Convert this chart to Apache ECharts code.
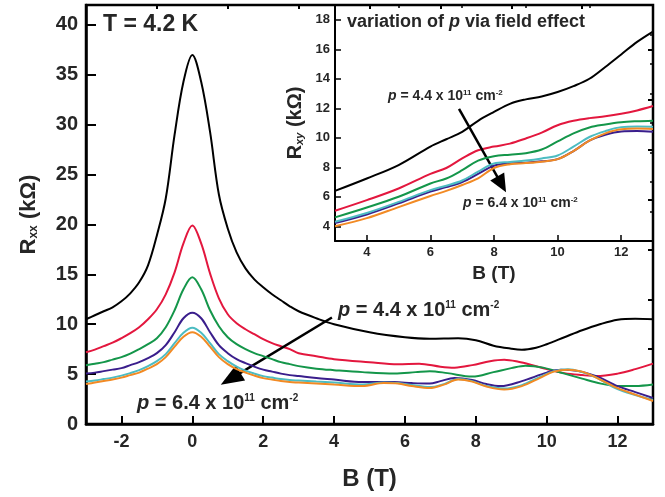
<!DOCTYPE html>
<html><head><meta charset="utf-8">
<script src="https://cdn.jsdelivr.net/npm/echarts@6/dist/echarts.min.js"></script>
<style>html,body{margin:0;padding:0;background:#fff}#c{width:665px;height:497px}</style>
</head><body><div id="c"></div>
<script>
// ---- Main panel: R_xx vs B (T) ----
// peak region, B from -3 to 3 T
const peakB = [-3, -2.75, -2.5, -2.25, -2, -1.75, -1.5, -1.25, -1, -0.75, -0.5, -0.25, 0, 0.25, 0.5, 0.75, 1, 1.25, 1.5, 1.75, 2, 2.25, 2.5, 2.75, 3];
const peakBlack  = [10.5, 10.9, 11.3, 11.7, 12.3, 13.1, 14.2, 15.9, 18.9, 22.6, 29.0, 34.3, 37.0, 34.3, 29.3, 23.0, 19.6, 17.2, 15.6, 14.5, 13.7, 13.0, 12.4, 11.8, 11.3];
const peakRed    = [7.2, 7.45, 7.8, 8.15, 8.6, 9.1, 9.7, 10.5, 11.5, 13.0, 15.2, 18.1, 19.9, 18.1, 15.1, 12.6, 11.0, 10.1, 9.5, 9.0, 8.5, 8.1, 7.8, 7.5, 7.1];
const peakGreen  = [5.9, 6.05, 6.2, 6.45, 6.7, 7.05, 7.5, 8.0, 8.6, 9.7, 11.4, 13.5, 14.7, 13.5, 11.4, 9.8, 8.7, 8.0, 7.5, 7.1, 6.8, 6.5, 6.2, 6.0, 5.8];
const peakPurple = [5.05, 5.15, 5.3, 5.45, 5.6, 5.9, 6.2, 6.6, 7.1, 7.9, 9.2, 10.6, 11.15, 10.6, 9.2, 7.9, 7.1, 6.5, 6.1, 5.75, 5.45, 5.25, 5.05, 4.9, 4.8];
const peakCyan   = [4.25, 4.35, 4.5, 4.65, 4.85, 5.1, 5.4, 5.8, 6.3, 7.0, 8.1, 9.15, 9.65, 9.15, 8.1, 7.0, 6.3, 5.75, 5.35, 5.05, 4.8, 4.65, 4.5, 4.4, 4.35];
const peakOrange = [4.0, 4.15, 4.3, 4.45, 4.65, 4.9, 5.15, 5.55, 6.0, 6.7, 7.75, 8.75, 9.2, 8.75, 7.75, 6.7, 6.0, 5.5, 5.15, 4.85, 4.6, 4.45, 4.3, 4.2, 4.15];
// high-field region, [B, R] pairs beyond 3 T
const tailBlack  = [[3.5,10.6],[4.0,10.0],[5.0,9.2],[6.0,8.7],[6.7,8.55],[7.5,8.6],[8.0,8.4],[8.5,7.85],[9.0,7.55],[9.3,7.45],[9.7,7.65],[10.0,8.0],[10.5,8.7],[11.0,9.4],[11.5,10.0],[12.0,10.45],[12.5,10.55],[13.0,10.5]];
const tailRed    = [[3.5,6.8],[4.0,6.5],[5.0,6.2],[5.8,6.0],[6.4,6.05],[7.0,5.75],[7.4,5.65],[7.9,5.9],[8.4,6.3],[8.8,6.45],[9.2,6.25],[9.6,5.9],[10.0,5.5],[10.5,5.1],[11.0,4.9],[11.4,4.8],[12.0,5.05],[12.5,5.5],[13.0,6.05]];
const tailGreen  = [[3.5,5.55],[4.0,5.4],[4.8,5.2],[5.7,5.07],[6.3,5.2],[6.7,5.3],[7.2,5.1],[7.9,4.75],[8.5,5.2],[9.0,5.6],[9.4,5.85],[9.9,5.65],[10.5,5.05],[11.0,4.55],[11.4,4.15],[12.0,3.8],[12.5,3.8],[13.0,3.95]];
const tailPurple = [[3.5,4.6],[4.0,4.45],[4.8,4.2],[5.7,4.2],[6.2,4.1],[6.7,4.05],[7.0,4.3],[7.4,4.6],[7.9,4.4],[8.3,4.0],[8.7,3.8],[9.3,4.3],[10.0,5.15],[10.4,5.45],[10.9,5.3],[11.4,4.8],[12.0,3.8],[12.5,3.2],[13.0,2.6]];
const tailCyan   = [[3.5,4.25],[4.0,4.15],[4.8,3.95],[5.4,4.15],[5.8,4.1],[6.2,3.9],[6.7,3.7],[7.1,4.0],[7.5,4.5],[7.9,4.3],[8.3,3.8],[8.8,3.55],[9.3,3.9],[9.8,4.7],[10.2,5.3],[10.6,5.5],[11.0,5.2],[11.4,4.65],[12.0,3.5],[12.5,2.9],[13.0,2.4]];
const tailOrange = [[3.5,4.05],[4.0,3.95],[4.8,3.8],[5.4,4.1],[5.8,4.05],[6.2,3.8],[6.7,3.6],[7.1,3.95],[7.5,4.45],[7.9,4.25],[8.3,3.75],[8.8,3.45],[9.3,3.8],[9.8,4.6],[10.2,5.25],[10.6,5.45],[11.0,5.25],[11.4,4.65],[12.0,3.6],[12.5,2.95],[13.0,2.3]];

// ---- Inset: R_xy vs B (T) ----
const insetB      = [3, 4, 5, 6, 6.5, 7, 7.5, 8, 8.5, 9, 9.5, 10, 10.5, 11, 11.5, 12, 12.5, 13];
const insetBlack  = [6.4, 7.24, 8.15, 9.4, 9.9, 10.4, 11.15, 11.75, 12.3, 12.6, 12.8, 13.1, 13.5, 14.0, 14.8, 15.65, 16.5, 17.2];
const insetRed    = [5.05, 5.77, 6.56, 7.55, 7.95, 8.6, 9.15, 9.4, 9.6, 9.95, 10.35, 10.85, 11.15, 11.33, 11.45, 11.62, 11.85, 12.15];
const insetGreen  = [4.6, 5.27, 6.0, 6.9, 7.24, 7.8, 8.45, 8.75, 8.85, 8.95, 9.2, 9.75, 10.3, 10.7, 10.9, 11.05, 11.12, 11.16];
const insetPurple = [4.22, 4.8, 5.55, 6.35, 6.65, 7.0, 7.55, 8.1, 8.25, 8.3, 8.4, 8.55, 9.1, 9.8, 10.2, 10.42, 10.45, 10.4];
const insetCyan   = [4.3, 4.9, 5.65, 6.45, 6.75, 7.1, 7.7, 8.25, 8.35, 8.45, 8.6, 8.8, 9.4, 10.05, 10.45, 10.72, 10.76, 10.75];
const insetOrange = [4.0, 4.55, 5.3, 6.05, 6.4, 6.8, 7.25, 7.95, 8.2, 8.28, 8.38, 8.55, 9.1, 9.8, 10.3, 10.58, 10.62, 10.6];

// ---- Tick values ----
const mainXTicks = [-2, 0, 2, 4, 6, 8, 10, 12];
const mainXMinor = [-1, 1, 3, 5, 7, 9, 11];
const mainYTicks = [0, 5, 10, 15, 20, 25, 30, 35, 40];
const mainYMinor = [2.5, 7.5, 12.5, 17.5, 22.5, 27.5, 32.5, 37.5];
const insetXTicks = [4, 6, 8, 10, 12];
const insetXMinor = [5, 7, 9, 11];
const insetYTicks = [4, 6, 8, 10, 12, 14, 16, 18];
const insetYMinor = [5, 7, 9, 11, 13, 15, 17];

// ---- Annotation arrows (data coordinates: tail, head) ----
const mainArrow  = [[3.94, 10.68], [1.08, 4.53]];
const insetArrow = [[6.90, 11.96], [8.24, 6.84]];

const colors = ['#000000', '#e3173e', '#14964a', '#3a1e8c', '#4cbcc2', '#f28a24'];
const FONT = 'Liberation Sans, Arial, Helvetica, sans-serif';
const TXT = '#262626';

const chart = echarts.init(document.getElementById('c'), null, {renderer: 'canvas'});

function majorAxis(extra) {
  return Object.assign({
    type: 'value', splitLine: {show: false},
    axisLine: {show: true, onZero: false, lineStyle: {color: '#000', width: 2.5}},
  }, extra);
}
function ghostAxis(extra) {
  return Object.assign({
    type: 'value', splitLine: {show: false},
    axisLine: {show: false, onZero: false}, axisLabel: {show: false},
  }, extra);
}

const peakSets = [peakBlack, peakRed, peakGreen, peakPurple, peakCyan, peakOrange];
const tailSets = [tailBlack, tailRed, tailGreen, tailPurple, tailCyan, tailOrange];
const insetSets = [insetBlack, insetRed, insetGreen, insetPurple, insetCyan, insetOrange];

const series = [];
peakSets.forEach((vals, i) => {
  const d = peakB.map((b, k) => [b, vals[k]]).concat(tailSets[i]);
  const s = {
    type: 'line', xAxisIndex: 0, yAxisIndex: 0, data: d, smooth: 0.35,
    showSymbol: false, symbol: 'none', silent: true,
    lineStyle: {color: colors[i], width: 2}, z: 3 + i
  };
  if (i === 0) {
    s.markLine = {
      silent: true, symbol: ['none', 'triangle'], symbolSize: [18, 23],
      label: {show: false}, lineStyle: {color: '#000', width: 2.5, type: 'solid'},
      itemStyle: {color: '#000'},
      data: [[{coord: mainArrow[0]}, {coord: mainArrow[1]}]]
    };
  }
  series.push(s);
});
insetSets.forEach((vals, i) => {
  const s = {
    type: 'line', xAxisIndex: 2, yAxisIndex: 2,
    data: insetB.map((b, k) => [b, vals[k]]), smooth: 0.35,
    showSymbol: false, symbol: 'none', silent: true,
    lineStyle: {color: colors[i], width: 2}, z: 3 + i
  };
  if (i === 0) {
    s.markLine = {
      silent: true, symbol: ['none', 'triangle'], symbolSize: [16, 18],
      label: {show: false}, lineStyle: {color: '#000', width: 2.5, type: 'solid'},
      itemStyle: {color: '#000'},
      data: [[{coord: insetArrow[0]}, {coord: insetArrow[1]}]]
    };
  }
  series.push(s);
});

function pText(left, top, size, supSize, val) {
  return {
    type: 'text', left: left, top: top, z: 100,
    style: {
      text: '{i|p} = ' + val + ' x 10{s|11} cm{s|-2}',
      font: 'bold ' + size + 'px ' + FONT, fill: TXT,
      rich: {
        i: {fontStyle: 'italic', fontWeight: 'bold', fontSize: size, fontFamily: FONT, fill: TXT, color: TXT},
        s: {fontSize: supSize, fontWeight: 'bold', fontFamily: FONT, verticalAlign: 'top', fill: TXT, color: TXT, lineHeight: size}
      }
    }
  };
}

chart.setOption({
  animation: false,
  backgroundColor: '#fff',
  grid: [
    {left: 86, right: 12, top: 5, bottom: 73, show: true, borderColor: '#000', borderWidth: 2.5, backgroundColor: 'transparent'},
    {left: 335, right: 12, top: 5, bottom: 256, show: false}
  ],
  xAxis: [
    majorAxis({gridIndex: 0, min: -3, max: 13,
      axisTick: {show: true, inside: true, length: 8, customValues: mainXTicks, lineStyle: {color: '#000', width: 2}},
      axisLabel: {customValues: mainXTicks, fontSize: 18, fontWeight: 'bold', fontFamily: FONT, color: TXT, margin: 9},
      name: 'B (T)', nameLocation: 'middle', nameGap: 43,
      nameTextStyle: {fontSize: 24, fontWeight: 'bold', fontFamily: FONT, color: TXT}}),
    ghostAxis({gridIndex: 0, min: -3, max: 13,
      axisTick: {show: true, inside: true, length: 4, customValues: mainXMinor, lineStyle: {color: '#000', width: 2}}}),
    majorAxis({gridIndex: 1, min: 3, max: 13,
      axisLine: {show: true, onZero: false, lineStyle: {color: '#000', width: 2}},
      axisTick: {show: true, inside: true, length: 6, customValues: insetXTicks, lineStyle: {color: '#000', width: 1.5}},
      axisLabel: {customValues: insetXTicks, fontSize: 13, fontWeight: 'bold', fontFamily: FONT, color: TXT, margin: 5},
      name: 'B (T)', nameLocation: 'middle', nameGap: 23,
      nameTextStyle: {fontSize: 19, fontWeight: 'bold', fontFamily: FONT, color: TXT}}),
    ghostAxis({gridIndex: 1, min: 3, max: 13,
      axisTick: {show: true, inside: true, length: 3, customValues: insetXMinor, lineStyle: {color: '#000', width: 1.5}}})
  ],
  yAxis: [
    majorAxis({gridIndex: 0, min: 0, max: 42,
      axisTick: {show: true, inside: true, length: 10, customValues: mainYTicks, lineStyle: {color: '#000', width: 2}},
      axisLabel: {customValues: mainYTicks, fontSize: 20, fontWeight: 'bold', fontFamily: FONT, color: TXT, margin: 8},
      name: '{m|R}{sub|xx}{m| (kΩ)}', nameLocation: 'middle', nameGap: 46, nameRotate: 90,
      nameTextStyle: {fontSize: 22, fontWeight: 'bold', fontFamily: FONT, color: TXT,
        rich: {m: {fontSize: 22, fontWeight: 'bold', fontFamily: FONT, color: TXT},
               sub: {fontSize: 12, fontWeight: 'bold', fontFamily: FONT, color: TXT, verticalAlign: 'bottom'}}}}),
    ghostAxis({gridIndex: 0, min: 0, max: 42,
      axisTick: {show: true, inside: true, length: 5, customValues: mainYMinor, lineStyle: {color: '#000', width: 2}}}),
    majorAxis({gridIndex: 1, min: 3, max: 19,
      axisLine: {show: true, onZero: false, lineStyle: {color: '#000', width: 2}},
      axisTick: {show: true, inside: true, length: 6, customValues: insetYTicks, lineStyle: {color: '#000', width: 1.5}},
      axisLabel: {customValues: insetYTicks, fontSize: 13, fontWeight: 'bold', fontFamily: FONT, color: TXT, margin: 5},
      name: '{m|R}{sub|xy}{m| (kΩ)}', nameLocation: 'middle', nameGap: 30, nameRotate: 90,
      nameTextStyle: {fontSize: 20, fontWeight: 'bold', fontFamily: FONT, color: TXT,
        rich: {m: {fontSize: 20, fontWeight: 'bold', fontFamily: FONT, color: TXT},
               sub: {fontSize: 11, fontWeight: 'bold', fontStyle: 'italic', fontFamily: FONT, color: TXT, verticalAlign: 'bottom'}}}}),
    ghostAxis({gridIndex: 1, min: 3, max: 19,
      axisTick: {show: true, inside: true, length: 3, customValues: insetYMinor, lineStyle: {color: '#000', width: 1.5}}})
  ],
  series: series,
  graphic: [
    {type: 'text', left: 103, top: 13, z: 100,
     style: {text: 'T = 4.2 K', font: 'bold 23px ' + FONT, fill: TXT}},
    {type: 'text', left: 347, top: 13, z: 100,
     style: {text: 'variation of {i|p} via field effect', font: 'bold 18px ' + FONT, fill: TXT,
       rich: {i: {fontStyle: 'italic', fontWeight: 'bold', fontSize: 18, fontFamily: FONT, fill: TXT}}}},
    pText(338, 300, 20, 10, '4.4'),
    pText(137, 393, 20, 10, '6.4'),
    pText(388, 89, 14, 8, '4.4'),
    pText(463, 196, 14, 8, '6.4')
  ]
});
</script></body></html>
